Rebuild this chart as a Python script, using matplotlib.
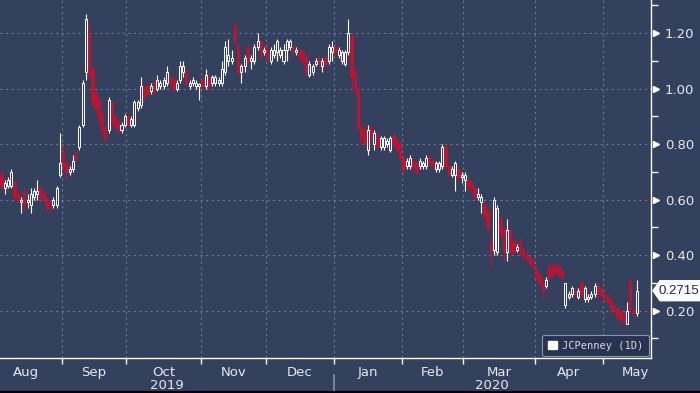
import matplotlib
matplotlib.use("Agg")
import matplotlib.pyplot as plt
import numpy as np
import pandas as pd
from matplotlib.patches import Patch, Polygon
from matplotlib.lines import Line2D

# ---------------- data (daily OHLC, 2019-08-06 .. 2020-05-15) ----------------
opens = [
    # Aug
    0.69, 0.64, 0.65, 0.65, 0.66, 0.62, 0.59, 0.63, 0.59, 0.58, 0.61, 0.62, 0.64, 0.62, 0.60, 0.59, 0.58, 0.58, 0.69,
    # Sep
    0.77, 0.73, 0.70, 0.71, 0.77, 0.79, 0.87, 1.06, 1.20, 1.07, 0.98, 0.96, 0.91, 0.86, 0.85, 0.95, 0.90, 0.88, 0.85, 0.87,
    # Oct
    0.90, 0.87, 0.87, 0.93, 0.94, 1.00, 1.01, 0.99, 1.02, 1.00, 1.01, 1.01, 1.02, 1.04, 1.03, 1.00, 1.03, 1.06, 1.06, 1.01, 1.02, 1.01, 1.01,
    # Nov
    1.03, 1.01, 1.04, 1.02, 1.02, 1.02, 1.02, 1.06, 1.10, 1.10, 1.23, 1.15, 1.06, 1.08, 1.15, 1.10, 1.10, 1.15, 1.17, 1.13,
    # Dec
    1.15, 1.10, 1.12, 1.13, 1.12, 1.10, 1.14, 1.15, 1.15, 1.13, 1.14, 1.13, 1.11, 1.05, 1.06, 1.09, 1.11, 1.08, 1.11, 1.10, 1.13,
    # Jan
    1.15, 1.12, 1.10, 1.09, 1.13, 1.19, 1.06, 1.00, 0.86, 0.85, 0.78, 0.86, 0.80, 0.83, 0.79, 0.79, 0.80, 0.78, 0.83, 0.81, 0.80,
    # Feb
    0.75, 0.72, 0.72, 0.74, 0.73, 0.72, 0.72, 0.72, 0.75, 0.74, 0.71, 0.71, 0.72, 0.79, 0.72, 0.69, 0.69, 0.71, 0.68,
    # Mar
    0.67, 0.67, 0.66, 0.64, 0.61, 0.59, 0.58, 0.56, 0.45, 0.42, 0.41, 0.53, 0.49, 0.41, 0.49, 0.45, 0.42, 0.45, 0.42, 0.40, 0.39, 0.38,
    # Apr
    0.35, 0.33, 0.30, 0.29, 0.36, 0.35, 0.36, 0.36, 0.34, 0.22, 0.25, 0.26, 0.27, 0.25, 0.30, 0.24, 0.24, 0.25, 0.26, 0.29, 0.28,
    # May
    0.26, 0.25, 0.24, 0.22, 0.21, 0.20, 0.19, 0.15, 0.31, 0.20, 0.19,
]
highs = [
    0.71, 0.67, 0.68, 0.71, 0.67, 0.63, 0.61, 0.64, 0.62, 0.64, 0.64, 0.67, 0.65, 0.63, 0.61, 0.60, 0.61, 0.65, 0.84,
    0.80, 0.74, 0.72, 0.76, 0.78, 0.87, 1.03, 1.27, 1.24, 1.08, 0.99, 0.97, 0.92, 0.87, 0.97, 0.96, 0.91, 0.89, 0.88, 0.91,
    0.91, 0.90, 0.96, 0.96, 1.04, 1.01, 1.02, 1.02, 1.03, 1.05, 1.03, 1.04, 1.08, 1.05, 1.04, 1.03, 1.10, 1.10, 1.07, 1.03, 1.04, 1.03, 1.02,
    1.04, 1.07, 1.05, 1.05, 1.05, 1.04, 1.10, 1.17, 1.18, 1.14, 1.24, 1.16, 1.09, 1.12, 1.16, 1.12, 1.16, 1.20, 1.18, 1.15,
    1.16, 1.15, 1.16, 1.18, 1.15, 1.16, 1.18, 1.18, 1.16, 1.15, 1.15, 1.14, 1.12, 1.10, 1.09, 1.11, 1.12, 1.11, 1.12, 1.16, 1.17,
    1.16, 1.15, 1.14, 1.14, 1.25, 1.20, 1.07, 1.01, 0.87, 0.87, 0.87, 0.87, 0.85, 0.84, 0.83, 0.83, 0.82, 0.83, 0.84, 0.82, 0.81,
    0.76, 0.75, 0.76, 0.75, 0.74, 0.75, 0.74, 0.76, 0.76, 0.75, 0.74, 0.74, 0.80, 0.80, 0.73, 0.72, 0.74, 0.72, 0.70,
    0.70, 0.68, 0.67, 0.65, 0.64, 0.62, 0.59, 0.57, 0.46, 0.61, 0.58, 0.54, 0.50, 0.53, 0.50, 0.46, 0.44, 0.46, 0.43, 0.41, 0.40, 0.39,
    0.36, 0.34, 0.31, 0.32, 0.37, 0.37, 0.37, 0.37, 0.35, 0.30, 0.27, 0.29, 0.28, 0.28, 0.31, 0.29, 0.26, 0.27, 0.30, 0.30, 0.28,
    0.27, 0.26, 0.24, 0.22, 0.21, 0.20, 0.19, 0.23, 0.31, 0.21, 0.31,
]
lows = [
    0.64, 0.62, 0.64, 0.64, 0.60, 0.59, 0.55, 0.56, 0.57, 0.55, 0.60, 0.60, 0.60, 0.59, 0.56, 0.56, 0.57, 0.57, 0.68,
    0.71, 0.67, 0.69, 0.70, 0.74, 0.78, 0.86, 1.03, 1.04, 0.94, 0.91, 0.87, 0.83, 0.81, 0.84, 0.87, 0.85, 0.84, 0.84, 0.86,
    0.86, 0.86, 0.86, 0.92, 0.93, 0.96, 0.97, 0.98, 0.98, 0.99, 1.00, 1.00, 1.01, 1.01, 0.99, 0.99, 1.02, 1.04, 1.01, 1.00, 1.01, 1.00, 0.96,
    1.00, 1.00, 1.00, 1.01, 1.01, 1.01, 1.01, 1.05, 1.08, 1.09, 1.16, 1.05, 1.02, 1.06, 1.09, 1.07, 1.09, 1.14, 1.11, 1.12,
    1.10, 1.09, 1.11, 1.10, 1.11, 1.09, 1.10, 1.14, 1.12, 1.12, 1.10, 1.09, 1.05, 1.04, 1.05, 1.08, 1.08, 1.06, 1.08, 1.09, 1.10,
    1.12, 1.11, 1.09, 1.08, 1.12, 1.00, 0.98, 0.85, 0.80, 0.79, 0.76, 0.81, 0.78, 0.79, 0.78, 0.78, 0.79, 0.77, 0.79, 0.77, 0.74,
    0.70, 0.71, 0.71, 0.71, 0.69, 0.71, 0.71, 0.71, 0.72, 0.71, 0.70, 0.70, 0.71, 0.71, 0.68, 0.68, 0.63, 0.67, 0.66,
    0.63, 0.63, 0.63, 0.60, 0.60, 0.55, 0.53, 0.48, 0.36, 0.40, 0.40, 0.46, 0.38, 0.38, 0.40, 0.40, 0.41, 0.40, 0.39, 0.38, 0.36, 0.35,
    0.31, 0.29, 0.25, 0.28, 0.31, 0.32, 0.33, 0.32, 0.31, 0.21, 0.24, 0.25, 0.25, 0.24, 0.25, 0.23, 0.23, 0.24, 0.25, 0.25, 0.25,
    0.24, 0.22, 0.20, 0.19, 0.17, 0.16, 0.15, 0.15, 0.20, 0.18, 0.18,
]
closes = [
    0.65, 0.66, 0.67, 0.70, 0.61, 0.60, 0.60, 0.58, 0.60, 0.62, 0.63, 0.63, 0.61, 0.60, 0.57, 0.58, 0.60, 0.64, 0.73,
    0.72, 0.70, 0.71, 0.74, 0.75, 0.86, 1.02, 1.25, 1.05, 0.95, 0.93, 0.89, 0.85, 0.82, 0.96, 0.88, 0.86, 0.85, 0.87, 0.90,
    0.87, 0.89, 0.95, 0.95, 1.01, 0.97, 0.98, 1.01, 0.99, 1.03, 1.02, 1.03, 1.06, 1.02, 1.00, 1.02, 1.08, 1.08, 1.02, 1.02, 1.03, 1.02, 1.015,
    1.01, 1.05, 1.01, 1.04, 1.04, 1.03, 1.07, 1.15, 1.12, 1.11, 1.17, 1.06, 1.08, 1.11, 1.10, 1.11, 1.15, 1.17, 1.12, 1.14,
    1.11, 1.14, 1.14, 1.17, 1.14, 1.14, 1.17, 1.17, 1.13, 1.14, 1.11, 1.10, 1.06, 1.09, 1.08, 1.10, 1.09, 1.10, 1.09, 1.15, 1.15,
    1.13, 1.14, 1.13, 1.13, 1.20, 1.04, 1.00, 0.86, 0.82, 0.80, 0.85, 0.83, 0.84, 0.79, 0.82, 0.82, 0.81, 0.82, 0.80, 0.78, 0.75,
    0.71, 0.74, 0.75, 0.72, 0.70, 0.74, 0.73, 0.75, 0.73, 0.72, 0.73, 0.73, 0.79, 0.72, 0.69, 0.71, 0.73, 0.68, 0.69,
    0.69, 0.65, 0.64, 0.61, 0.62, 0.61, 0.54, 0.50, 0.41, 0.60, 0.57, 0.48, 0.41, 0.49, 0.41, 0.41, 0.43, 0.41, 0.40, 0.39, 0.37, 0.36,
    0.32, 0.30, 0.27, 0.31, 0.32, 0.33, 0.34, 0.33, 0.32, 0.30, 0.26, 0.28, 0.26, 0.27, 0.26, 0.28, 0.25, 0.26, 0.29, 0.26, 0.26,
    0.25, 0.23, 0.21, 0.20, 0.18, 0.17, 0.16, 0.20, 0.21, 0.19, 0.2715,
]
holidays = ["2019-09-02", "2019-11-28", "2019-12-25", "2020-01-01", "2020-01-20",
            "2020-02-17", "2020-04-10", "2020-05-25"]
first_day, last_day = "2019-08-06", "2020-05-15"
y_major = [0.20, 0.40, 0.60, 0.80, 1.00, 1.20]
y_minor = [0.10, 0.30, 0.50, 0.70, 0.90, 1.10, 1.30]
last_price = 0.2715
legend_label = "JCPenney (1D)"

# ---------------- colours ----------------
BG = "#33405e"
RED = "#c8102e"
UP = "#ffffff"
GRID = "#6a7897"
TXT = "#e6e9f0"

# ---------------- trading-day axis ----------------
cal = pd.bdate_range("2019-08-01", "2020-05-29")
cal = cal[~cal.isin(pd.to_datetime(holidays))]
dates = cal[(cal >= first_day) & (cal <= last_day)]
offset = int(np.where(cal == dates[0])[0][0])
cal_pos = np.arange(len(cal)) - offset
x = np.arange(len(dates)) + 0.5

o = np.array(opens); h = np.array(highs); l = np.array(lows); c = np.array(closes)
up = c >= o

fig = plt.figure(figsize=(7.0, 3.93), dpi=100, facecolor=BG)
ax = fig.add_axes([0.0, 0.089, 0.930, 0.911])
ax.set_facecolor(BG)
xmax = 651 / 3.24
ax.set_xlim(0, xmax)
ax.set_ylim(0.029, 1.319)

# wicks
ax.vlines(x[up], l[up], h[up], colors=UP, lw=0.8, zorder=3)
ax.vlines(x[~up], l[~up], h[~up], colors=RED, lw=0.9, zorder=3)
# bodies
body_lo = np.minimum(o, c)
body_h = np.maximum(np.abs(c - o), 0.004)
ax.bar(x[up], body_h[up], bottom=body_lo[up], width=0.62, facecolor=BG,
       edgecolor=UP, linewidth=0.7, zorder=4)
ax.bar(x[~up], body_h[~up], bottom=body_lo[~up], width=0.72, facecolor=RED,
       edgecolor=RED, linewidth=0.5, zorder=4)

# month structure
periods = cal.to_period("M")
months = periods.unique()
starts = [cal_pos[np.where(periods == m)[0][0]] for m in months]
ends = starts[1:] + [cal_pos[-1] + 1]
bounds = [s for s in starts[1:]]

ax.set_xticks(bounds)
ax.set_xticklabels([])
ax.tick_params(axis="x", which="major", length=4, width=1, color="white", direction="out")
for b in bounds:
    ax.axvline(b, color=GRID, lw=0.8, ls=(0, (2, 3)), zorder=1)
for yv in y_major:
    ax.axhline(yv, color=GRID, lw=0.8, ls=(0, (2, 3)), zorder=1)

xtrans = ax.get_xaxis_transform()
for m, s, e in zip(months, starts, ends):
    ax.text((s + e) / 2, -0.040, m.strftime("%b"), transform=xtrans, ha="center",
            va="center", color=TXT, fontsize=9.5, clip_on=False)

years = sorted(set(p.year for p in periods))
for yr in years:
    idx = [cal_pos[i] for i in range(len(cal)) if periods[i].year == yr]
    lo_, hi_ = max(min(idx), 0), min(max(idx) + 1, xmax)
    ax.text((lo_ + hi_) / 2, -0.078, str(yr), transform=xtrans, ha="center",
            va="center", color=TXT, fontsize=9.5, clip_on=False)
    if min(idx) > 0:
        ax.plot([min(idx), min(idx)], [-0.048, -0.10], transform=xtrans,
                color="#8390aa", lw=1.2, clip_on=False)

# y axis on right
ax.yaxis.tick_right()
ax.set_yticks(y_major)
ax.set_yticklabels([f"{v:.2f}" for v in y_major])
ax.set_yticks(y_minor, minor=True)
ax.tick_params(axis="y", which="major", length=0, pad=10, labelcolor=TXT, labelsize=9.5)
ax.tick_params(axis="y", which="minor", length=5, width=1, color="white")
ytrans = ax.get_yaxis_transform()
ax.plot([1.0 + 4.5 / 651] * len(y_major), y_major, ls="none", marker=">", ms=4.5,
        color="white", transform=ytrans, clip_on=False)

for side in ("top", "left"):
    ax.spines[side].set_visible(False)
for side in ("bottom", "right"):
    ax.spines[side].set_color("white")
    ax.spines[side].set_linewidth(1.0)

# last-price tag
dy = 0.036
tag = Polygon([[1.0 + 2 / 651, last_price], [1.0 + 9 / 651, last_price + dy],
               [1.0 + 49 / 651, last_price + dy], [1.0 + 49 / 651, last_price - dy],
               [1.0 + 9 / 651, last_price - dy]], closed=True, transform=ytrans,
              facecolor="white", edgecolor="white", clip_on=False, zorder=6)
ax.add_patch(tag)
ax.text(1.0 + 28 / 651, last_price, f"{last_price:.4f}", transform=ytrans, ha="center",
        va="center", color="#1d2a45", fontsize=9.5, family="Liberation Sans",
        clip_on=False, zorder=7)

# legend
leg = ax.legend(handles=[Patch(facecolor="white", edgecolor="white")], labels=[legend_label],
                loc="lower right", borderaxespad=0.15, frameon=True, fancybox=True,
                facecolor="#273350", edgecolor="#8a96b0", framealpha=1.0,
                handlelength=0.9, handleheight=0.9, handletextpad=0.5, borderpad=0.55,
                prop={"family": "DejaVu Sans Mono", "size": 7.5}, labelcolor="#d5d9e3")
leg.get_frame().set_linewidth(0.8)

fig.add_artist(Line2D([0, 1], [0.0015, 0.0015], color="black", lw=1.5))

fig.savefig("out.png", dpi=100, facecolor=BG)
